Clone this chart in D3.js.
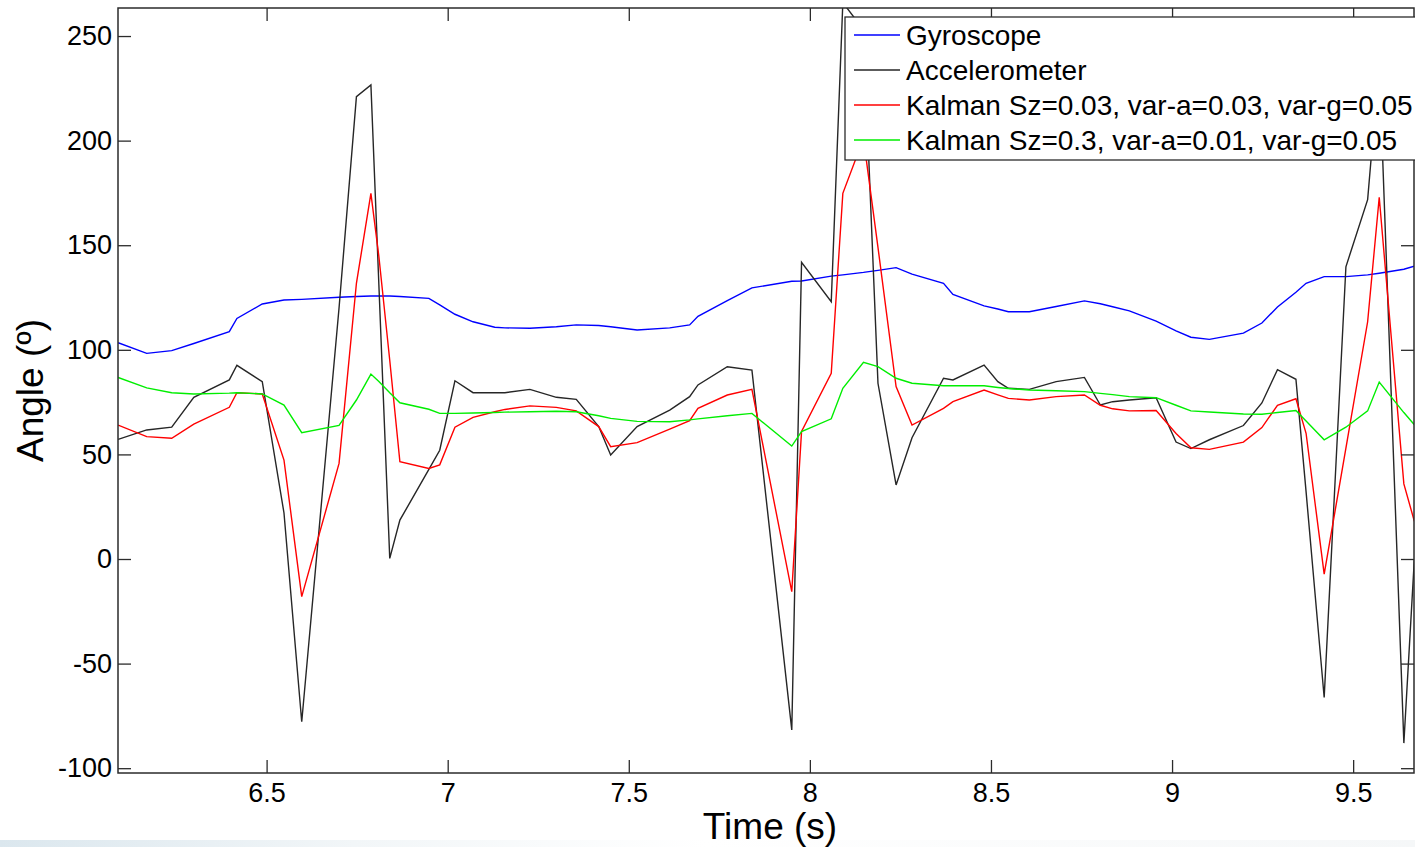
<!DOCTYPE html>
<html>
<head>
<meta charset="utf-8">
<script src="https://d3js.org/d3.v7.min.js"></script>
<style>
  html, body { margin: 0; padding: 0; background: #fff; }
  svg { display: block; font-family: "Liberation Sans", Arial, sans-serif; }
</style>
</head>
<body>
<svg id="chart" width="1415" height="847"></svg>
<script>
// sample times (s)
const time = [6.090, 6.169, 6.238, 6.299, 6.397, 6.418, 6.488, 6.548, 6.597, 6.700,
  6.748, 6.788, 6.810, 6.840, 6.868, 6.948, 6.978, 7.020, 7.070, 7.130,
  7.158, 7.227, 7.300, 7.355, 7.417, 7.450, 7.523, 7.613, 7.668, 7.691,
  7.772, 7.840, 7.950, 7.977, 8.059, 8.091, 8.148, 8.188, 8.238, 8.282,
  8.369, 8.395, 8.481, 8.519, 8.548, 8.606, 8.680, 8.758, 8.802, 8.836,
  8.882, 8.956, 9.011, 9.052, 9.103, 9.197, 9.248, 9.291, 9.342, 9.370,
  9.420, 9.480, 9.540, 9.572, 9.640, 9.669];

const gyroscope = [103.4, 98.3, 99.6, 103, 108.7, 115, 121.9, 123.8, 124.1, 125.1,
  125.5, 125.7, 125.7, 125.7, 125.5, 124.6, 121.5, 117, 113.4, 110.8,
  110.5, 110.3, 111, 111.9, 111.6, 111, 109.5, 110.5, 111.9, 116,
  123.5, 129.6, 132.8, 132.9, 135.2, 135.8, 137, 138, 139.3, 136.2,
  131.8, 126.5, 121, 119.5, 118.2, 118.2, 120.7, 123.4, 122, 120.6,
  118.6, 113.7, 109.1, 106, 105, 108, 112.8, 120.5, 127.5, 131.8,
  135, 135, 135.8, 136.6, 138.5, 140];

const accelerometer = [57.2, 61.7, 63, 77.3, 85.6, 92.6, 84.8, 22, -77.8, 120,
  221, 226.6, 131, 0.3, 18.6, 42.8, 52, 85.2, 79.5, 79.5,
  79.5, 81.1, 77.3, 76.3, 63.3, 49.7, 63.3, 71.2, 77.6, 83.2,
  91.9, 90.3, -81.7, 141.8, 123, 266, 253, 84, 35.4, 58,
  86.4, 85.6, 92.7, 84.8, 81.6, 81.1, 84.8, 86.8, 73.6, 75.2,
  76, 77.1, 55.9, 52.8, 57, 63.8, 74.6, 90.5, 85.9, 32.2,
  -66.2, 139.7, 171.8, 237, -88, 0];

const kalmanA = [64, 58.5, 57.7, 64.5, 72.5, 79.5, 78.9, 47.3, -18, 45.7,
  131.8, 174.8, 144.6, 95, 46.5, 43.3, 45, 63, 67.7, 70.4,
  71.5, 73.2, 72.5, 70.8, 63.3, 53.7, 55.6, 62.1, 66.1, 72,
  78.4, 81.1, -15.6, 61, 88.8, 174.8, 201, 149, 82.4, 64,
  72, 75.2, 80.8, 78.5, 76.8, 76, 77.6, 78.4, 73.5, 71.8,
  70.8, 71, 60, 53.2, 52.4, 55.9, 62.8, 73.5, 76.6, 60.1,
  -7.2, 53, 113.4, 172.9, 35.9, 18];

const kalmanB = [86.8, 81.8, 79.5, 78.9, 79.3, 79.5, 78.9, 73.6, 60.4, 63.9,
  76, 88.4, 84.9, 79.5, 74.7, 71.6, 69.6, 69.6, 69.8, 70,
  70.2, 70.4, 70.6, 70.4, 68.5, 67.2, 65.8, 65.6, 66.5, 67,
  68.5, 69.6, 54, 60.9, 67, 81.6, 94, 92, 86.4, 84,
  82.8, 82.8, 82.8, 82, 81.5, 80.8, 80.4, 80, 79.2, 78.6,
  77.6, 77.1, 73.5, 70.8, 70.3, 69.3, 69.2, 70, 71, 66,
  57, 63, 70.8, 84.6, 70, 64.2];

const seriesNames = ['Gyroscope', 'Accelerometer',
  'Kalman Sz=0.03, var-a=0.03, var-g=0.05',
  'Kalman Sz=0.3, var-a=0.01, var-g=0.05'];
const seriesValues = [gyroscope, accelerometer, kalmanA, kalmanB];
const seriesColors = ['#0000ff', '#262626', '#ff0000', '#00ee00'];

const xTicks = [6.5, 7, 7.5, 8, 8.5, 9, 9.5];
const yTicks = [-100, -50, 0, 50, 100, 150, 200, 250];

const width = 1415;
const height = 847;
const plot = { left: 118, top: 8, right: 1414, bottom: 773 };

const svg = d3.select('#chart');

// faint screenshot band at the very bottom
const defs = svg.append('defs');
const grad = defs.append('linearGradient').attr('id', 'band');
grad.append('stop').attr('offset', '0').attr('stop-color', '#dbe7ee');
grad.append('stop').attr('offset', '0.25').attr('stop-color', '#f2f6f8');
grad.append('stop').attr('offset', '0.5').attr('stop-color', '#ffffff');
grad.append('stop').attr('offset', '1').attr('stop-color', '#f5f7f8');
svg.append('rect')
  .attr('x', 0).attr('y', 840)
  .attr('width', width).attr('height', 7)
  .attr('fill', 'url(#band)');

defs.append('clipPath').attr('id', 'plotclip')
  .append('rect')
  .attr('x', plot.left).attr('y', plot.top)
  .attr('width', plot.right - plot.left)
  .attr('height', plot.bottom - plot.top);

const x = d3.scaleLinear()
  .domain([6.0897, 9.668])
  .range([plot.left, plot.right]);

const y = d3.scaleLinear()
  .domain([-102.3, 263.4])
  .range([plot.bottom, plot.top]);

// lines
const line = d3.line()
  .x((d, i) => x(time[i]))
  .y(d => y(d));

const lines = svg.append('g').attr('clip-path', 'url(#plotclip)');
seriesValues.forEach((vals, i) => {
  lines.append('path')
    .datum(vals)
    .attr('fill', 'none')
    .attr('stroke', seriesColors[i])
    .attr('stroke-width', 1.4)
    .attr('stroke-linejoin', 'miter')
    .attr('d', line);
});

// axes, MATLAB style box with inward ticks
const axisColor = '#2b2b2b';
const fontSize = 27;

function styleAxis(g) {
  g.select('.domain').remove();
  g.selectAll('.tick line').attr('stroke', axisColor).attr('stroke-width', 1.3);
  g.selectAll('.tick text')
    .attr('fill', '#000')
    .style('font-size', fontSize + 'px')
    .style('font-family', '"Liberation Sans", Arial, sans-serif');
}

svg.append('g')
  .attr('transform', `translate(0,${plot.bottom})`)
  .call(d3.axisBottom(x).tickValues(xTicks).tickSize(-13).tickPadding(10)
    .tickFormat(d => String(d)))
  .call(styleAxis);

svg.append('g')
  .attr('transform', `translate(0,${plot.top})`)
  .call(d3.axisTop(x).tickValues(xTicks).tickSize(-13).tickFormat(''))
  .call(styleAxis);

svg.append('g')
  .attr('transform', `translate(${plot.left},0)`)
  .call(d3.axisLeft(y).tickValues(yTicks).tickSize(-13).tickPadding(6)
    .tickFormat(d => String(d)))
  .call(styleAxis);

svg.append('g')
  .attr('transform', `translate(${plot.right},0)`)
  .call(d3.axisRight(y).tickValues(yTicks).tickSize(-13).tickFormat(''))
  .call(styleAxis);

svg.append('rect')
  .attr('x', plot.left).attr('y', plot.top)
  .attr('width', plot.right - plot.left)
  .attr('height', plot.bottom - plot.top)
  .attr('fill', 'none')
  .attr('stroke', axisColor)
  .attr('stroke-width', 1.5);

// axis titles
svg.append('text')
  .attr('x', (plot.left + plot.right) / 2 + 4)
  .attr('y', 839)
  .attr('text-anchor', 'middle')
  .style('font-size', '37px')
  .text('Time (s)');

svg.append('text')
  .attr('transform', `translate(43,${(plot.top + plot.bottom) / 2}) rotate(-90)`)
  .attr('text-anchor', 'middle')
  .style('font-size', '37px')
  .text('Angle (º)');

// legend
const legend = svg.append('g').attr('class', 'legend');
legend.append('rect')
  .attr('x', 845).attr('y', 17)
  .attr('width', 620).attr('height', 143)
  .attr('fill', '#fff')
  .attr('stroke', axisColor)
  .attr('stroke-width', 1.3);

const rowY = d3.scalePoint().domain(d3.range(seriesNames.length)).range([35, 140]);

const items = legend.selectAll('.legend-item')
  .data(seriesNames)
  .enter().append('g')
  .attr('class', 'legend-item')
  .attr('transform', (d, i) => `translate(0,${rowY(i)})`);

items.append('line')
  .attr('x1', 854).attr('x2', 900)
  .attr('y1', 0).attr('y2', 0)
  .attr('stroke', (d, i) => seriesColors[i])
  .attr('stroke-width', 1.4);

items.append('text')
  .attr('x', 906)
  .attr('y', 10)
  .style('font-size', '28px')
  .text(d => d);
</script>
</body>
</html>
